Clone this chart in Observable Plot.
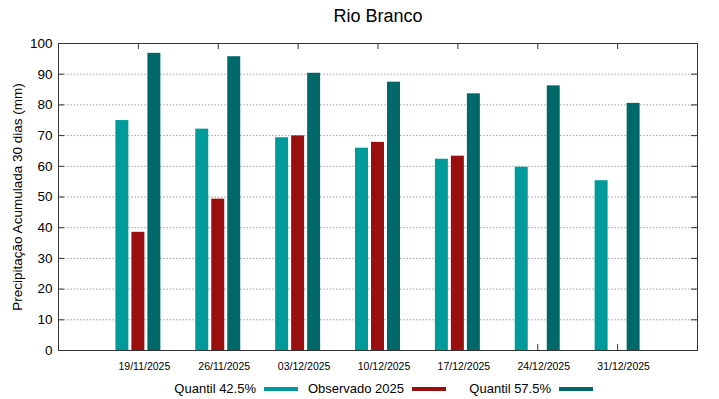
<!DOCTYPE html>
<html>
<head>
<meta charset="utf-8">
<script src="https://cdn.jsdelivr.net/npm/d3@7"></script>
<script src="https://cdn.jsdelivr.net/npm/@observablehq/plot@0.6"></script>
<style>
  html, body { margin: 0; padding: 0; background: #fff; }
  #wrap { position: relative; width: 719px; height: 399px; font-family: "Liberation Sans", Arial, sans-serif; }
  #wrap svg { display: block; }
  .leg { position: absolute; top: 381px; height: 16px; font-size: 13px; color: #000; }
  .leg .lab { position: absolute; right: 8px; top: 0; white-space: nowrap; line-height: 16px; }
  .leg .sw { position: absolute; left: 0; top: 6px; width: 34px; height: 4px; }
</style>
</head>
<body>
<div id="wrap"></div>
<script>
// ---- data ----
const dates = ["19/11/2025", "26/11/2025", "03/12/2025", "10/12/2025", "17/12/2025", "24/12/2025", "31/12/2025"];
const q425 = [74.9, 72.1, 69.3, 65.9, 62.3, 59.7, 55.3];
const obs2025 = [38.5, 49.3, 69.9, 67.8, 63.3, null, null];
const q575 = [96.8, 95.7, 90.3, 87.4, 83.6, 86.2, 80.5];
const yTicks = [0, 10, 20, 30, 40, 50, 60, 70, 80, 90, 100];
const seriesNames = ["Quantil 42.5%", "Observado 2025", "Quantil 57.5%"];
const title = "Rio Branco";
const yLabel = "Precipitação Acumulada 30 dias (mm)";

// ---- styles ----
const colors = ["#009a9a", "#990e0e", "#006868"];
const W = 719, H = 399, mL = 58, mR = 22, mT = 43, mB = 49;
const frameW = W - mL - mR, frameH = H - mT - mB;
const offsets = [-16, 0, 16];

const seriesData = [q425, obs2025, q575].map(arr =>
  dates.map((d, i) => ({date: d, value: arr[i]})).filter(r => r.value != null)
);

const font = '"Liberation Sans", Arial, sans-serif';

const chart = Plot.plot({
  width: W, height: H,
  marginLeft: mL, marginRight: mR, marginTop: mT, marginBottom: mB,
  style: {fontFamily: font, fontSize: "13.5px", color: "#000", background: "#fff", overflow: "visible"},
  x: {type: "band", domain: dates, paddingInner: 0.8, paddingOuter: 0.9, round: false, label: null},
  y: {domain: [0, 100], label: null},
  marks: [
    Plot.gridY(yTicks, {stroke: "#8a8a8a", strokeOpacity: 1, strokeDasharray: "1.2,2"}),
    // inward ticks (left/right)
    Plot.tickY(yTicks, {y: d => d, insetRight: frameW - 6, stroke: "#333"}),
    Plot.tickY(yTicks, {y: d => d, insetLeft: frameW - 6, stroke: "#333"}),
    // inward ticks (top/bottom)
    Plot.tickX(dates, {x: d => d, insetBottom: frameH - 6, stroke: "#333"}),
    Plot.tickX(dates, {x: d => d, insetTop: frameH - 6, stroke: "#333"}),
    ...seriesData.map((data, k) =>
      Plot.barY(data, {x: "date", y: "value", fill: colors[k], dx: offsets[k], insetLeft: 1.5, insetRight: 1.5})
    ),
    Plot.frame({stroke: "#333"}),
    Plot.axisY(yTicks, {tickSize: 0, tickPadding: 6, fontSize: 13.5, label: null}),
    Plot.axisX({tickSize: 0, tickPadding: 12, fontSize: 10.5, dx: 6, label: null}),
    Plot.text([title], {frameAnchor: "top", dy: -27, lineAnchor: "middle", fontSize: 18, text: d => d}),
    Plot.text([yLabel], {frameAnchor: "left", dx: -40.5, rotate: -90, textAnchor: "middle", lineAnchor: "middle", fontSize: 13.5, text: d => d})
  ]
});

const wrap = document.getElementById("wrap");
wrap.appendChild(chart);

// legend
const swatchLeft = [264, 412, 559];
seriesNames.forEach((name, k) => {
  const item = document.createElement("div");
  item.className = "leg";
  item.style.left = swatchLeft[k] + "px";
  const lab = document.createElement("span");
  lab.className = "lab";
  lab.textContent = name;
  lab.style.right = "calc(100% + 8px)";
  const sw = document.createElement("span");
  sw.className = "sw";
  sw.style.background = colors[k];
  item.appendChild(lab);
  item.appendChild(sw);
  wrap.appendChild(item);
});
</script>
</body>
</html>
